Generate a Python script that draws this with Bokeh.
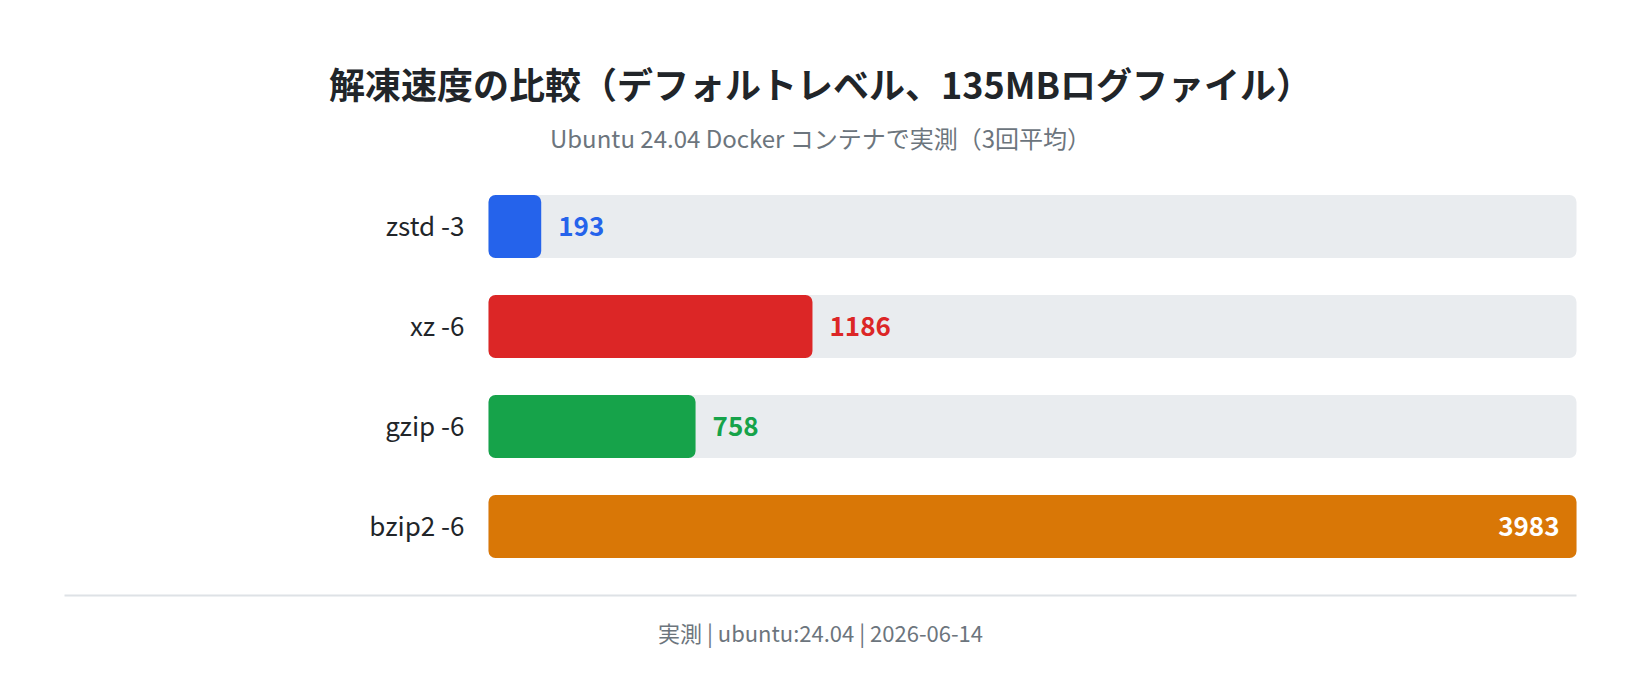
from bokeh.plotting import figure
from bokeh.models import ColumnDataSource, Range1d, Label
from bokeh.embed import file_html
from bokeh.resources import INLINE
from bokeh.core.properties import value

# data
categories = ["zstd -3", "xz -6", "gzip -6", "bzip2 -6"]
times_ms = [193, 1186, 758, 3983]
bar_colors = ["#2563eb", "#dc2626", "#16a34a", "#d97706"]

title_text = "解凍速度の比較（デフォルトレベル、135MBログファイル）"
subtitle_text = "Ubuntu 24.04 Docker コンテナで実測（3回平均）"
footer_text = "実測 | ubuntu:24.04 | 2026-06-14"

FONT = "Noto Sans CJK JP"
W, H = 1624, 674

# layout in canvas pixels
track_left, track_right = 488, 1576
row0_px, row_step = 226, 100

vmax = max(times_ms)
px_per_val = (track_right - track_left) / vmax


def px2x(px):
    return (px - track_left) / px_per_val


def px2y(py):
    return (py - row0_px) / row_step


rows = list(range(len(categories)))
inside = [v / vmax > 0.85 for v in times_ms]
source = ColumnDataSource(data=dict(
    cat=categories,
    val=times_ms,
    row=rows,
    color=bar_colors,
    full=[vmax] * len(rows),
    label=[str(v) for v in times_ms],
    lab_color=["#ffffff" if i else c for i, c in zip(inside, bar_colors)],
    lab_offset=[-17 if i else 17 for i in inside],
    lab_align=["right" if i else "left" for i in inside],
))

p = figure(width=W, height=H, output_backend="svg", toolbar_location=None,
           x_range=Range1d(px2x(0), px2x(W)),
           y_range=Range1d(px2y(H), px2y(0)),
           min_border=0, outline_line_color=None)
p.axis.visible = False
p.grid.visible = False
p.background_fill_color = "white"
p.border_fill_color = "white"

# background track
p.hbar(y="row", left=0, right="full", height=0.63, source=source,
       fill_color="#e9ecef", line_color=None, border_radius=7)
# value bars
p.hbar(y="row", left=0, right="val", height=0.63, source=source,
       fill_color="color", line_color=None, border_radius=7)

# category labels
p.text(x=0, y="row", text="cat", source=source, x_offset=-24, y_offset=-2,
       text_align="right", text_baseline="middle",
       text_font=value(FONT), text_font_size="26px", text_color="#212529")

# value labels
p.text(x="val", y="row", text="label", source=source, x_offset="lab_offset",
       text_align="lab_align", text_baseline="middle",
       text_font=value(FONT), text_font_size="26px", text_font_style="bold",
       text_color="lab_color")

# separator rule
p.segment(x0=[px2x(64)], y0=[px2y(595)], x1=[px2x(1576)], y1=[px2y(595)],
          line_color="#dee2e6", line_width=2)

cx = px2x(820)
p.add_layout(Label(x=cx, y=px2y(82), text=title_text, text_align="center",
                   text_baseline="middle", text_font=FONT, text_font_size="36px",
                   text_font_style="bold", text_color="#212529"))
p.add_layout(Label(x=cx, y=px2y(137), text=subtitle_text, text_align="center",
                   text_baseline="middle", text_font=FONT, text_font_size="24px",
                   text_color="#6c757d"))
p.add_layout(Label(x=cx, y=px2y(631), text=footer_text, text_align="center",
                   text_baseline="middle", text_font=FONT, text_font_size="22px",
                   text_color="#6c757d"))

open("out.html", "w").write(file_html(p, INLINE))
